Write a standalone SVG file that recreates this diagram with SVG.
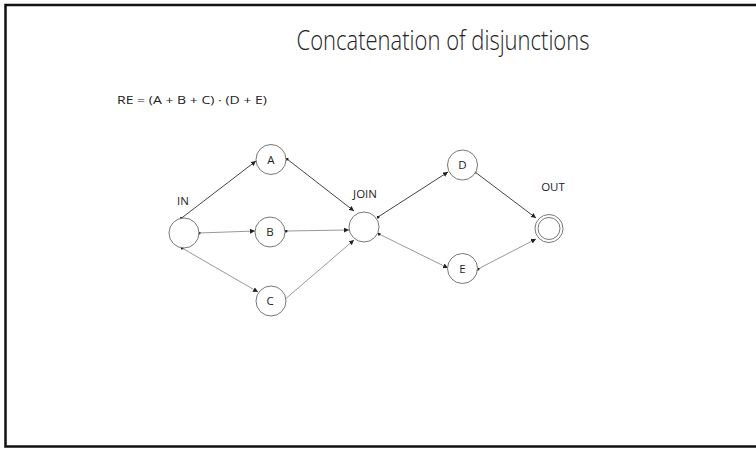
<svg xmlns="http://www.w3.org/2000/svg" width="756" height="449" viewBox="0 0 756 449">
  <style>
    text { font-family: "Open Sans", "Liberation Sans", sans-serif; fill: #222; }
    .title { font-size: 28px; font-weight: 300; }
    .expr { font-size: 10.5px; }
    .lbl { font-size: 11.5px; }
    .state { fill: #fff; stroke: #777; stroke-width: 1; }
    .dark { stroke: #444; stroke-width: 1; fill: none; marker-start: url(#dot); marker-end: url(#arrow); }
    .light { stroke: #999; stroke-width: 1; fill: none; marker-start: url(#dot); marker-end: url(#arrow); }
  </style>
  <defs>
    <marker id="arrow" viewBox="0 0 10 10" refX="10" refY="5" markerWidth="5" markerHeight="5" orient="auto" markerUnits="userSpaceOnUse">
      <path d="M0,0 L10,5 L0,10 z" fill="#222"/>
    </marker>
    <marker id="dot" viewBox="0 0 10 10" refX="5" refY="5" markerWidth="3" markerHeight="3" markerUnits="userSpaceOnUse">
      <circle cx="5" cy="5" r="5" fill="#222"/>
    </marker>
  </defs>

  <rect x="0" y="0" width="756" height="449" fill="#fff"/>
  <!-- slide frame -->
  <rect x="5.5" y="5" width="770" height="441.5" fill="none" stroke="#111" stroke-width="2.5"/>

  <text class="title" x="443" y="50" text-anchor="middle" textLength="293" lengthAdjust="spacingAndGlyphs">Concatenation of disjunctions</text>
  <text class="expr" x="117" y="104" textLength="150" lengthAdjust="spacingAndGlyphs">RE = (A + B + C) · (D + E)</text>

  <g id="connectors">
    <line class="dark" x1="181" y1="218.5" x2="256" y2="161"/>
    <line class="light" x1="199" y1="233" x2="255" y2="231"/>
    <line class="light" x1="182" y1="248" x2="258" y2="292"/>
    <line class="dark" x1="287" y1="159" x2="354" y2="211"/>
    <line class="light" x1="286" y1="231" x2="349" y2="230"/>
    <line class="light" x1="283" y1="301" x2="354" y2="240"/>
    <line class="dark" x1="378" y1="217" x2="448" y2="172"/>
    <line class="light" x1="379" y1="234" x2="448" y2="268"/>
    <line class="dark" x1="475" y1="172" x2="536" y2="218"/>
    <line class="light" x1="478" y1="269" x2="536" y2="239"/>
  </g>

  <g id="in">
    <circle class="state" cx="184" cy="233" r="15"/>
    <text class="lbl" x="183" y="205" text-anchor="middle">IN</text>
  </g>
  <g id="a">
    <circle class="state" cx="271" cy="159.5" r="15"/>
    <text class="lbl" x="271" y="163.5" text-anchor="middle">A</text>
  </g>
  <g id="b">
    <circle class="state" cx="270" cy="232" r="15"/>
    <text class="lbl" x="270" y="236" text-anchor="middle">B</text>
  </g>
  <g id="c">
    <circle class="state" cx="271" cy="301" r="15"/>
    <text class="lbl" x="270" y="305" text-anchor="middle">C</text>
  </g>
  <g id="join">
    <circle class="state" cx="364" cy="227" r="15"/>
    <text class="lbl" x="365" y="198" text-anchor="middle">JOIN</text>
  </g>
  <g id="d">
    <circle class="state" cx="462.5" cy="165" r="15"/>
    <text class="lbl" x="462.5" y="169" text-anchor="middle">D</text>
  </g>
  <g id="e">
    <circle class="state" cx="462.5" cy="268.5" r="15"/>
    <text class="lbl" x="462.5" y="272.5" text-anchor="middle">E</text>
  </g>
  <g id="out">
    <circle class="state" cx="549" cy="228.5" r="14"/>
    <circle class="state" cx="549" cy="228.5" r="11" fill="none"/>
    <text class="lbl" x="553" y="191" text-anchor="middle">OUT</text>
  </g>
</svg>
